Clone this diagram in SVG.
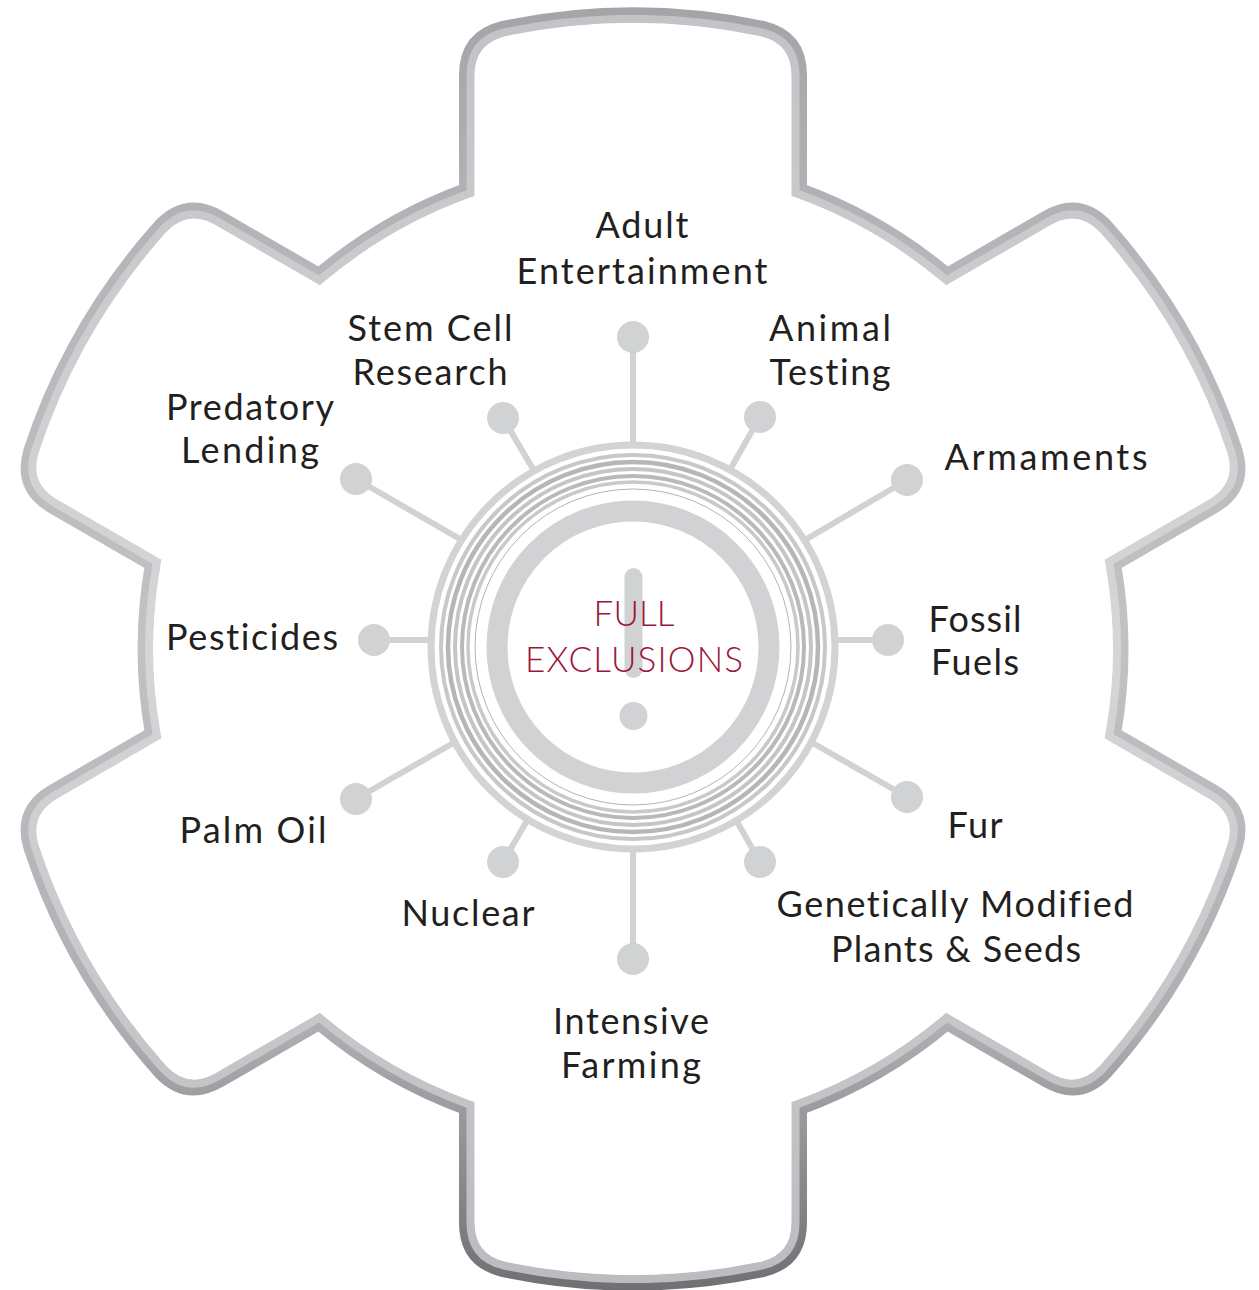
<svg xmlns="http://www.w3.org/2000/svg" xmlns:xlink="http://www.w3.org/1999/xlink" width="1259" height="1290" viewBox="0 0 1259 1290">
  <style>
    .label { font-family: Lato, "Noto Sans", "Liberation Sans", sans-serif; font-size: 36px; fill: #231f20; text-anchor: middle; font-variant-ligatures: none; }
    .core { font-family: Lato, "Noto Sans", "Liberation Sans", sans-serif; font-size: 35px; font-weight: 300; fill: #9b1538; text-anchor: middle; font-variant-ligatures: none; }
    .spoke { stroke: #d1d2d4; stroke-width: 6; fill: none; }
    .dot { fill: #d1d2d4; }
    .ring { fill: none; }
  </style>
  <defs>
    <!-- six-tooth gear outline (tooth tips r=634, roots r=488) -->
    <path id="gearShape" d="M 466.5 190.3 L 466.5 75.3 Q 466.5 37.3 503.4 28.4 A 634 634 0 0 1 762.6 28.4 Q 799.5 37.3 799.5 75.3 L 799.5 190.3 A 488 488 0 0 1 947.0 275.5 L 1046.6 218.0 Q 1079.5 199.0 1105.6 226.5 A 634 634 0 0 1 1235.2 450.9 Q 1246.0 487.4 1213.1 506.4 L 1113.5 563.9 A 488 488 0 0 1 1113.5 734.2 L 1213.1 791.7 Q 1246.0 810.7 1235.2 847.1 A 634 634 0 0 1 1105.6 1071.5 Q 1079.5 1099.1 1046.6 1080.1 L 947.0 1022.6 A 488 488 0 0 1 799.5 1107.7 L 799.5 1222.7 Q 799.5 1260.7 762.6 1269.6 A 634 634 0 0 1 503.4 1269.6 Q 466.5 1260.7 466.5 1222.7 L 466.5 1107.7 A 488 488 0 0 1 319.1 1022.6 L 219.5 1080.1 Q 186.6 1099.1 160.4 1071.5 A 634 634 0 0 1 30.8 847.1 Q 20.1 810.7 53.0 791.7 L 152.6 734.2 A 488 488 0 0 1 152.6 563.9 L 53.0 506.4 Q 20.1 487.4 30.8 450.9 A 634 634 0 0 1 160.4 226.5 Q 186.6 199.0 219.5 218.0 L 319.1 275.5 A 488 488 0 0 1 466.5 190.3 Z"/>
    <clipPath id="gearInside">
      <use xlink:href="#gearShape"/>
    </clipPath>
    <linearGradient id="rimOuter" gradientUnits="userSpaceOnUse" x1="0" y1="0" x2="0" y2="1290">
      <stop offset="0" stop-color="#a4a3a8"/>
      <stop offset="0.2" stop-color="#b6b6ba"/>
      <stop offset="0.5" stop-color="#c2c2c5"/>
      <stop offset="0.8" stop-color="#aeadb2"/>
      <stop offset="1" stop-color="#706f74"/>
    </linearGradient>
    <linearGradient id="rimInner" gradientUnits="userSpaceOnUse" x1="0" y1="0" x2="0" y2="1290">
      <stop offset="0" stop-color="#c3c3c7"/>
      <stop offset="0.5" stop-color="#d6d6d8"/>
      <stop offset="1" stop-color="#bcbcc0"/>
    </linearGradient>
  </defs>

  <rect width="1259" height="1290" fill="#ffffff"/>

  <!-- gear rim: darker outer half, lighter inner half -->
  <g id="gear">
    <use xlink:href="#gearShape" fill="#ffffff" stroke="url(#rimOuter)" stroke-width="15"/>
    <use xlink:href="#gearShape" fill="none" stroke="url(#rimInner)" stroke-width="16" clip-path="url(#gearInside)"/>
  </g>

  <!-- spokes from the hub to each category dot -->
  <g id="connectors">
    <line class="spoke" x1="633" y1="444" x2="633" y2="337"/>
    <line class="spoke" x1="731" y1="468" x2="760" y2="417"/>
    <line class="spoke" x1="805" y1="540" x2="907" y2="480"/>
    <line class="spoke" x1="835" y1="640" x2="888" y2="640"/>
    <line class="spoke" x1="811" y1="742" x2="907" y2="797"/>
    <line class="spoke" x1="736" y1="820" x2="760" y2="862"/>
    <line class="spoke" x1="633" y1="850" x2="633" y2="959"/>
    <line class="spoke" x1="528" y1="819" x2="503" y2="862"/>
    <line class="spoke" x1="455" y1="742" x2="356" y2="799"/>
    <line class="spoke" x1="431" y1="640" x2="374" y2="640"/>
    <line class="spoke" x1="460" y1="539" x2="356" y2="479"/>
    <line class="spoke" x1="533" y1="469" x2="503" y2="418"/>
  </g>

  <!-- central hub: concentric rings, warning mark and title -->
  <g id="hub">
    <circle cx="633" cy="647" r="202" fill="#ffffff"/>
    <circle class="ring" cx="633" cy="647" r="202" stroke="#d3d3d5" stroke-width="7"/>
    <circle class="ring" cx="633" cy="647" r="192" stroke="#c8c8cb" stroke-width="4"/>
    <circle class="ring" cx="633" cy="647" r="185" stroke="#b6b6b9" stroke-width="4.5"/>
    <circle class="ring" cx="633" cy="647" r="178" stroke="#c5c5c8" stroke-width="4"/>
    <circle class="ring" cx="633" cy="647" r="171" stroke="#b9b9bc" stroke-width="4"/>
    <circle class="ring" cx="633" cy="647" r="165" stroke="#c9c9cc" stroke-width="3.5"/>
    <circle class="ring" cx="633" cy="647" r="158" stroke="#b3b3b6" stroke-width="1"/>
    <circle class="ring" cx="633" cy="647" r="136" stroke="#d2d2d4" stroke-width="21"/>
    <line x1="633.5" y1="577" x2="633.5" y2="669" stroke="#d1d2d4" stroke-width="18" stroke-linecap="round"/>
    <circle cx="633.5" cy="716" r="14" fill="#d1d2d4"/>
    <text class="core" x="634" y="626" textLength="81" lengthAdjust="spacing">FULL</text>
    <text class="core" x="634" y="672" textLength="218" lengthAdjust="spacing">EXCLUSIONS</text>
  </g>

  <g id="node-adult-entertainment">
    <circle class="dot" cx="633" cy="337" r="16"/>
    <text class="label" x="642" y="238" textLength="93" lengthAdjust="spacing">Adult</text>
    <text class="label" x="642" y="284" textLength="251" lengthAdjust="spacing">Entertainment</text>
  </g>
  <g id="node-animal-testing">
    <circle class="dot" cx="760" cy="417" r="16"/>
    <text class="label" x="830" y="341" textLength="122" lengthAdjust="spacing">Animal</text>
    <text class="label" x="830" y="385" textLength="121" lengthAdjust="spacing">Testing</text>
  </g>
  <g id="node-armaments">
    <circle class="dot" cx="907" cy="480" r="16"/>
    <text class="label" x="1046" y="470" textLength="203" lengthAdjust="spacing">Armaments</text>
  </g>
  <g id="node-fossil-fuels">
    <circle class="dot" cx="888" cy="640" r="16"/>
    <text class="label" x="975" y="632" textLength="93" lengthAdjust="spacing">Fossil</text>
    <text class="label" x="975" y="675" textLength="88" lengthAdjust="spacing">Fuels</text>
  </g>
  <g id="node-fur">
    <circle class="dot" cx="907" cy="797" r="16"/>
    <text class="label" x="975" y="838" textLength="55" lengthAdjust="spacing">Fur</text>
  </g>
  <g id="node-gm-plants">
    <circle class="dot" cx="760" cy="862" r="16"/>
    <text class="label" x="955" y="917" textLength="357" lengthAdjust="spacing">Genetically Modified</text>
    <text class="label" x="956" y="962" textLength="250" lengthAdjust="spacing">Plants &amp; Seeds</text>
  </g>
  <g id="node-intensive-farming">
    <circle class="dot" cx="633" cy="959" r="16"/>
    <text class="label" x="631" y="1034" textLength="156" lengthAdjust="spacing">Intensive</text>
    <text class="label" x="631" y="1078" textLength="140" lengthAdjust="spacing">Farming</text>
  </g>
  <g id="node-nuclear">
    <circle class="dot" cx="503" cy="862" r="16"/>
    <text class="label" x="468" y="926" textLength="133" lengthAdjust="spacing">Nuclear</text>
  </g>
  <g id="node-palm-oil">
    <circle class="dot" cx="356" cy="799" r="16"/>
    <text class="label" x="253" y="843" textLength="147" lengthAdjust="spacing">Palm Oil</text>
  </g>
  <g id="node-pesticides">
    <circle class="dot" cx="374" cy="640" r="16"/>
    <text class="label" x="252" y="650" textLength="172" lengthAdjust="spacing">Pesticides</text>
  </g>
  <g id="node-predatory-lending">
    <circle class="dot" cx="356" cy="479" r="16"/>
    <text class="label" x="250" y="420" textLength="168" lengthAdjust="spacing">Predatory</text>
    <text class="label" x="250" y="463" textLength="138" lengthAdjust="spacing">Lending</text>
  </g>
  <g id="node-stem-cell-research">
    <circle class="dot" cx="503" cy="418" r="16"/>
    <text class="label" x="430" y="341" textLength="165" lengthAdjust="spacing">Stem Cell</text>
    <text class="label" x="430" y="385" textLength="155" lengthAdjust="spacing">Research</text>
  </g>
</svg>
